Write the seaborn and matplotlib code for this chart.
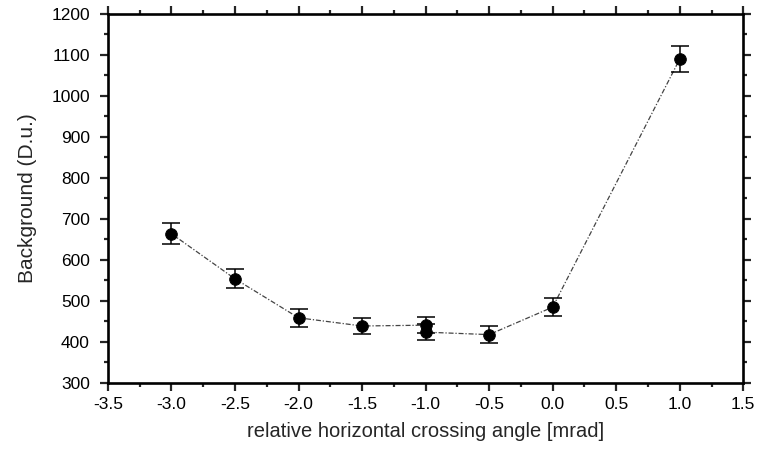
import pandas as pd
import seaborn as sns
import matplotlib.pyplot as plt
from matplotlib.ticker import MultipleLocator

# values
angle = [-3.0, -2.5, -2.0, -1.5, -1.0, -1.0, -0.5, 0.0, 1.0]
background = [664, 554, 459, 439, 441, 424, 418, 485, 1090]
err = [25, 23, 22, 20, 20, 20, 20, 22, 31]

df = pd.DataFrame({"angle": angle, "background": background, "err": err})

sns.set_style("ticks")
plt.rcParams['font.family'] = ['Liberation Sans', 'DejaVu Sans']

fig = plt.figure(figsize=(7.6, 4.49), dpi=100)
ax = fig.add_axes([0.142, 0.147, 0.836, 0.822])

sns.lineplot(data=df, x="angle", y="background", sort=False, estimator=None,
             color="#444444", lw=0.9, linestyle=(0, (4, 1.5, 1, 1.5)), ax=ax)
ax.errorbar(df["angle"], df["background"], yerr=df["err"], fmt="none",
            ecolor="black", elinewidth=1.1, capsize=6.5, capthick=1.1)
sns.scatterplot(data=df, x="angle", y="background", color="black", s=70,
                edgecolor="black", zorder=5, ax=ax)

ax.set_xlim(-3.5, 1.5)
ax.set_ylim(300, 1200)
ax.xaxis.set_major_locator(MultipleLocator(0.5))
ax.xaxis.set_minor_locator(MultipleLocator(0.25))
ax.yaxis.set_major_locator(MultipleLocator(100))
ax.yaxis.set_minor_locator(MultipleLocator(50))
ax.xaxis.set_major_formatter(plt.FuncFormatter(lambda v, p: f"{v:.1f}"))

ax.tick_params(which="both", direction="out", top=True, right=True,
               width=1.6, labelsize=12.5, labelcolor="black")
ax.tick_params(which="major", length=6, pad=4)
ax.tick_params(which="minor", length=3)
ax.tick_params(axis="y", which="major", pad=7)
for s in ax.spines.values():
    s.set_linewidth(1.9)
    s.set_color("black")

ax.set_xlabel("relative horizontal crossing angle [mrad]", fontsize=14.5, labelpad=7)
ax.set_ylabel("Background (D.u.)", fontsize=15, labelpad=10)

fig.savefig("out.png", dpi=100)
plt.close(fig)
